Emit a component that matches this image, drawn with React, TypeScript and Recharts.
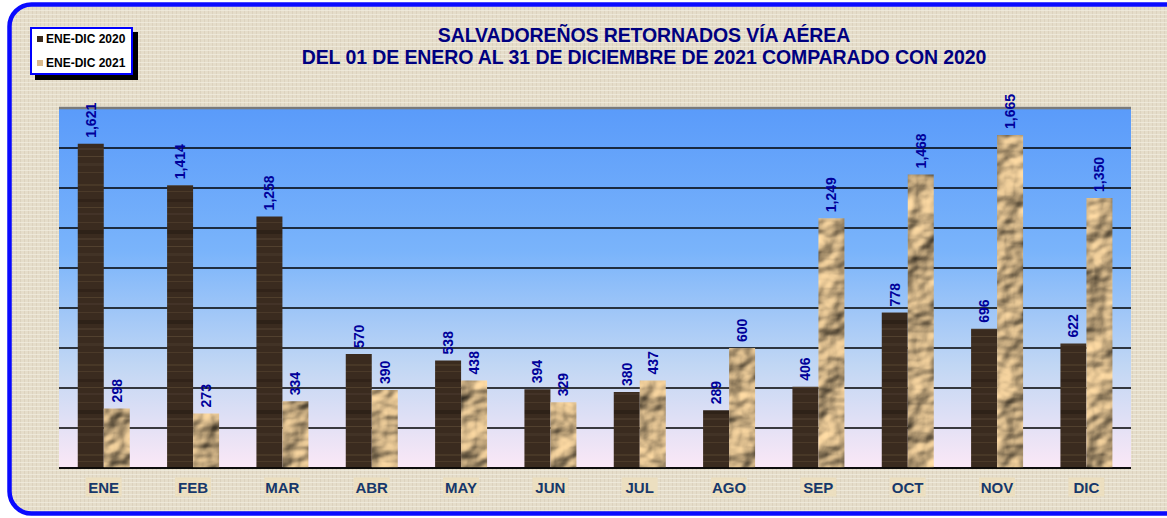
import React from 'react';
import {
  BarChart, Bar, XAxis, YAxis, CartesianGrid, ReferenceLine, LabelList, Legend,
} from 'recharts';

const months = ['ENE', 'FEB', 'MAR', 'ABR', 'MAY', 'JUN', 'JUL', 'AGO', 'SEP', 'OCT', 'NOV', 'DIC'];
const values2020 = [1621, 1414, 1258, 570, 538, 394, 380, 289, 406, 778, 696, 622];
const values2021 = [298, 273, 334, 390, 438, 329, 437, 600, 1249, 1468, 1665, 1350];
const seriesNames = ['ENE-DIC 2020', 'ENE-DIC 2021'];
const yTicks = [0, 200, 400, 600, 800, 1000, 1200, 1400, 1600, 1800];
const boundaryTicks = [0, 1, 2, 3, 4, 5, 6, 7, 8, 9, 10, 11, 12];
const titleLines = [
  'SALVADOREÑOS RETORNADOS VÍA AÉREA',
  'DEL 01 DE ENERO AL 31 DE DICIEMBRE DE 2021 COMPARADO CON 2020',
];

const data = months.map((m, i) => ({ month: m, y2020: values2020[i], y2021: values2021[i] }));

const W = 1167;
const H = 518;

const ValueLabel = (props: any) => {
  const { x, y, width, value } = props;
  const cx = Number(x) + Number(width) / 2;
  const ty = Number(y) - 6;
  return (
    <text
      x={cx}
      y={ty}
      transform={`rotate(-90 ${cx} ${ty})`}
      textAnchor="start"
      dominantBaseline="central"
      fill="#00009a"
      fontFamily="Liberation Sans, Arial, sans-serif"
      fontWeight="bold"
      fontSize={14}
    >
      {Number(value).toLocaleString('en-US')}
    </text>
  );
};

const MonthTick = (props: any) => {
  const { x, y, payload } = props;
  const cy = Number(y) + 5;
  return (
    <g>
      <rect x={x - 18} y={cy - 9.5} width={36} height={19} fill="#ecdfc0" />
      <text
        x={x}
        y={cy}
        textAnchor="middle"
        dominantBaseline="central"
        fill="#17386b"
        fontFamily="Liberation Sans, Arial, sans-serif"
        fontWeight="bold"
        fontSize={15}
      >
        {payload.value}
      </text>
    </g>
  );
};

const EmptyTick = () => <g />;

const LegendBox = () => {
  const swatches = ['#3b2b1e', '#d9b98c'];
  return (
    <div style={{ position: 'relative', width: 103, height: 48 }}>
      <div style={{ position: 'absolute', left: 5, top: 5, width: 103, height: 48, background: '#000' }} />
      <div
        style={{
          position: 'absolute', left: 0, top: 0, width: 99, height: 44,
          background: '#fff', border: '2px solid #0000ff',
          fontFamily: 'Liberation Sans, Arial, sans-serif', fontWeight: 'bold', fontSize: 12, color: '#000',
        }}
      >
        {seriesNames.map((n, i) => (
          <div key={n} style={{ position: 'absolute', left: 5, top: 3 + i * 24, height: 14, display: 'flex', alignItems: 'center', whiteSpace: 'nowrap' }}>
            <span style={{ display: 'inline-block', width: 6, height: 6, background: swatches[i], marginRight: 3 }} />
            {n}
          </div>
        ))}
      </div>
    </div>
  );
};

export default function App() {
  return (
    <div style={{ position: 'absolute', left: 0, top: 0, width: W, height: H, overflow: 'hidden', background: '#ffffff' }}>
      <svg width={W} height={H} style={{ position: 'absolute', left: 0, top: 0 }}>
        <defs>
          <pattern id="linen" patternUnits="userSpaceOnUse" width="4" height="4">
            <rect width="4" height="4" fill="#e5ddca" />
            <rect x="0" y="0" width="1" height="4" fill="#d5cbb5" opacity="0.6" />
            <rect x="0" y="2" width="4" height="1" fill="#f3eee2" opacity="0.7" />
          </pattern>
          <linearGradient id="plotGrad" x1="0" y1="0" x2="0" y2="1">
            <stop offset="0%" stopColor="#5a9bfa" />
            <stop offset="40%" stopColor="#7ab4fb" />
            <stop offset="72%" stopColor="#c2d7f4" />
            <stop offset="100%" stopColor="#fbe8f6" />
          </linearGradient>
          <pattern id="wood" patternUnits="userSpaceOnUse" width="40" height="90">
            <rect width="40" height="90" fill="#3a2b1f" />
            <rect y="4" width="40" height="2" fill="#4e3d2b" opacity="0.7" />
            <rect y="11" width="40" height="1" fill="#5c4a33" opacity="0.5" />
            <rect y="19" width="40" height="3" fill="#2e2118" opacity="0.8" />
            <rect y="27" width="40" height="1" fill="#66533a" opacity="0.5" />
            <rect y="33" width="40" height="2" fill="#45352a" opacity="0.8" />
            <rect y="42" width="40" height="1" fill="#5a4834" opacity="0.5" />
            <rect y="50" width="40" height="4" fill="#2b1f16" opacity="0.8" />
            <rect y="58" width="40" height="2" fill="#504030" opacity="0.6" />
            <rect y="66" width="40" height="1" fill="#6a5840" opacity="0.5" />
            <rect y="73" width="40" height="3" fill="#443428" opacity="0.8" />
            <rect y="82" width="40" height="1" fill="#5b4934" opacity="0.5" />
          </pattern>
          <filter id="crumple" x="0" y="0" width="1" height="1" colorInterpolationFilters="sRGB">
            <feTurbulence type="fractalNoise" baseFrequency="0.028 0.034" numOctaves="3" seed="11" stitchTiles="stitch" result="n" />
            <feDiffuseLighting in="n" surfaceScale="7" diffuseConstant="1.1" lightingColor="#eccb98" result="l">
              <feDistantLight azimuth="225" elevation="50" />
            </feDiffuseLighting>
          </filter>
          <pattern id="paper" patternUnits="userSpaceOnUse" width="1200" height="520">
            <rect width="1200" height="520" fill="#c7a67a" filter="url(#crumple)" />
          </pattern>
        </defs>
        <rect x={9.5} y={4.5} width={1210} height={509} rx={22} ry={22} fill="url(#linen)" stroke="#0a0aff" strokeWidth={4.5} />
      </svg>

      <div
        style={{
          position: 'absolute', left: 244, top: 24, width: 800, textAlign: 'center',
          fontFamily: 'Liberation Sans, Arial, sans-serif', fontWeight: 'bold', fontSize: 19.5,
          lineHeight: '22px', color: '#000080', letterSpacing: -0.1,
        }}
      >
        {titleLines.map((t) => (
          <div key={t}>{t}</div>
        ))}
      </div>

      <div style={{ position: 'absolute', left: 0, top: 0 }}>
        <BarChart
          width={W}
          height={H}
          data={data}
          margin={{ top: 108, right: 36, bottom: 20, left: 59 }}
          barCategoryGap="21%"
          barGap={0}
        >
          <CartesianGrid
            xAxisId="bCat"
            yAxisId="left"
            vertical={false}
            horizontal
            stroke="#000"
            strokeWidth={1.3}
            fill="url(#plotGrad)"
            fillOpacity={1}
          />
          <XAxis
            xAxisId="aGrid"
            type="number"
            domain={[0, 12]}
            ticks={boundaryTicks}
            allowDataOverflow
            tick={false}
            tickLine={{ stroke: '#000', strokeWidth: 1 }}
            tickSize={5}
            axisLine={{ stroke: '#000', strokeWidth: 1.5 }}
            height={6}
          />
          <XAxis
            xAxisId="bCat"
            dataKey="month"
            type="category"
            tickLine={false}
            axisLine={false}
            tick={<MonthTick />}
            height={24}
            interval={0}
          />
          <YAxis
            yAxisId="left"
            domain={[0, 1800]}
            ticks={yTicks}
            width={0}
            tick={<EmptyTick />}
            tickLine={false}
            axisLine={{ stroke: '#8c8c8c', strokeWidth: 1.5 }}
          />
          <YAxis
            yAxisId="right"
            orientation="right"
            domain={[0, 1800]}
            ticks={yTicks}
            width={0}
            tick={<EmptyTick />}
            tickLine={false}
            axisLine={{ stroke: '#7a7a7a', strokeWidth: 2.5 }}
          />
          <ReferenceLine yAxisId="left" xAxisId="bCat" y={1800} stroke="#7a7a7a" strokeWidth={2.5} />
          <Legend
            layout="vertical"
            align="center"
            verticalAlign="middle"
            content={<LegendBox />}
            wrapperStyle={{ position: 'absolute', left: 30, top: 27, width: 110, height: 55 }}
          />
          <Bar dataKey="y2020" name={seriesNames[0]} xAxisId="bCat" yAxisId="left" fill="url(#wood)" isAnimationActive={false}>
            <LabelList dataKey="y2020" content={<ValueLabel />} />
          </Bar>
          <Bar dataKey="y2021" name={seriesNames[1]} xAxisId="bCat" yAxisId="left" fill="url(#paper)" isAnimationActive={false}>
            <LabelList dataKey="y2021" content={<ValueLabel />} />
          </Bar>
        </BarChart>
      </div>
    </div>
  );
}
